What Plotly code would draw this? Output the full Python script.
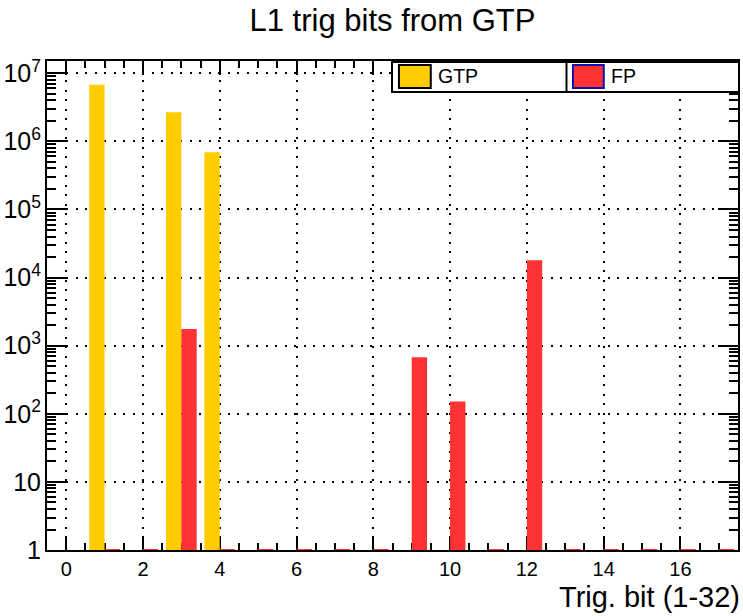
import plotly.graph_objects as go

# ---- data ----
bits = list(range(1, 33))
gtp_counts = [6.8e6, 0, 2.67e6, 6.9e5] + [0] * 28
fp_counts = [0, 0, 1760, 0, 0, 0, 0, 0, 675, 151, 0, 17900] + [0] * 20
series_names = ["GTP", "FP"]
x_title = "Trig. bit (1-32)"
chart_title = "L1 trig bits from GTP"

GTP_COLOR = "#ffcc00"
FP_COLOR = "#ff3333"
FONT = "Liberation Sans, Arial, Helvetica, sans-serif"

W, H = 743, 616
ML, MR, MT, MB = 45, 3, 61, 66
PW = W - ML - MR
PH = H - MT - MB


def px_x(p):
    return (p - ML) / PW


def px_y(p):
    return (H - MB - p) / PH


fig = go.Figure()

fig.add_trace(go.Bar(
    x=bits, y=[v if v > 0 else None for v in gtp_counts],
    offset=-0.4, width=0.4, marker=dict(color=GTP_COLOR, line=dict(width=0)),
    name=series_names[0], showlegend=False,
))
fig.add_trace(go.Bar(
    x=bits, y=[v if v > 0 else None for v in fp_counts],
    offset=0.0, width=0.4, marker=dict(color=FP_COLOR, line=dict(width=0)),
    name=series_names[1], showlegend=False,
))

# empty FP bins drawn as thin lines on the baseline (ROOT style)
zx, zy = [], []
for b, v in zip(bits, fp_counts):
    if v == 0:
        zx += [b, b + 0.4, None]
        zy += [1, 1, None]
fig.add_trace(go.Scatter(x=zx, y=zy, mode="lines",
                         line=dict(color=FP_COLOR, width=2),
                         showlegend=False, hoverinfo="skip"))

grid = dict(showgrid=True, gridcolor="black", gridwidth=2, griddash="2px,7.5px")

fig.update_layout(
    width=W, height=H,
    margin=dict(l=ML, r=MR, t=MT, b=MB),
    paper_bgcolor="white", plot_bgcolor="white",
    barmode="overlay",
    showlegend=False,
    font=dict(family=FONT, color="black", size=20),
    title=dict(text=chart_title, x=0.5, xref="paper", xanchor="center",
               y=1 - 20 / H, yref="container", yanchor="middle",
               font=dict(size=31, family=FONT, color="black")),
    xaxis=dict(
        range=[-0.5, 17.5], tickmode="linear", tick0=0, dtick=2,
        ticks="inside", ticklen=14, tickwidth=2, tickcolor="black",
        showline=True, linewidth=2, linecolor="black", mirror="ticks",
        minor=dict(ticks="inside", ticklen=7, tickwidth=2, tickcolor="black",
                   dtick=0.5, tick0=0, showgrid=False),
        tickfont=dict(size=20, family=FONT), zeroline=False,
        layer="below traces",
        **grid,
    ),
    yaxis=dict(
        type="log", range=[0, 7.18], dtick=1, exponentformat="power",
        ticks="inside", ticklen=20, tickwidth=2, tickcolor="black",
        showline=True, linewidth=2, linecolor="black", mirror="ticks",
        minor=dict(ticks="inside", ticklen=9, tickwidth=2, tickcolor="black",
                   dtick="D1", showgrid=False),
        tickfont=dict(size=20, family=FONT), zeroline=False,
        **grid,
    ),
)

# x-axis title, right aligned (ROOT style)
fig.add_annotation(text=x_title, xref="paper", yref="paper",
                   x=1.0, xshift=3, y=px_y(597), xanchor="right", yanchor="middle",
                   borderpad=0,
                   showarrow=False, font=dict(size=29, family=FONT, color="black"))

# ---- legend box (ROOT TLegend look) ----
lx0, lx1, ly0, ly1 = 392, 741, 62, 92
ldiv = 567.5
fig.add_shape(type="rect", xref="paper", yref="paper",
              x0=px_x(lx0), x1=px_x(lx1), y0=px_y(ly1), y1=px_y(ly0),
              line=dict(color="black", width=2), fillcolor="white", layer="above")
fig.add_shape(type="line", xref="paper", yref="paper",
              x0=px_x(ldiv), x1=px_x(ldiv), y0=px_y(ly1), y1=px_y(ly0),
              line=dict(color="black", width=2), layer="above")
swatches = [(399, 431, GTP_COLOR, "black", 436), (574, 605, FP_COLOR, "#1010b0", 610)]
for (sx0, sx1, fc, lc, tx), name in zip(swatches, series_names):
    fig.add_shape(type="rect", xref="paper", yref="paper",
                  x0=px_x(sx0), x1=px_x(sx1), y0=px_y(88), y1=px_y(65),
                  line=dict(color=lc, width=2), fillcolor=fc, layer="above")
    fig.add_annotation(text=name, xref="paper", yref="paper",
                       x=px_x(tx), y=px_y(76.5), xanchor="left", yanchor="middle",
                       showarrow=False, font=dict(size=19.5, family=FONT, color="black"))

fig.write_html("out.html")
